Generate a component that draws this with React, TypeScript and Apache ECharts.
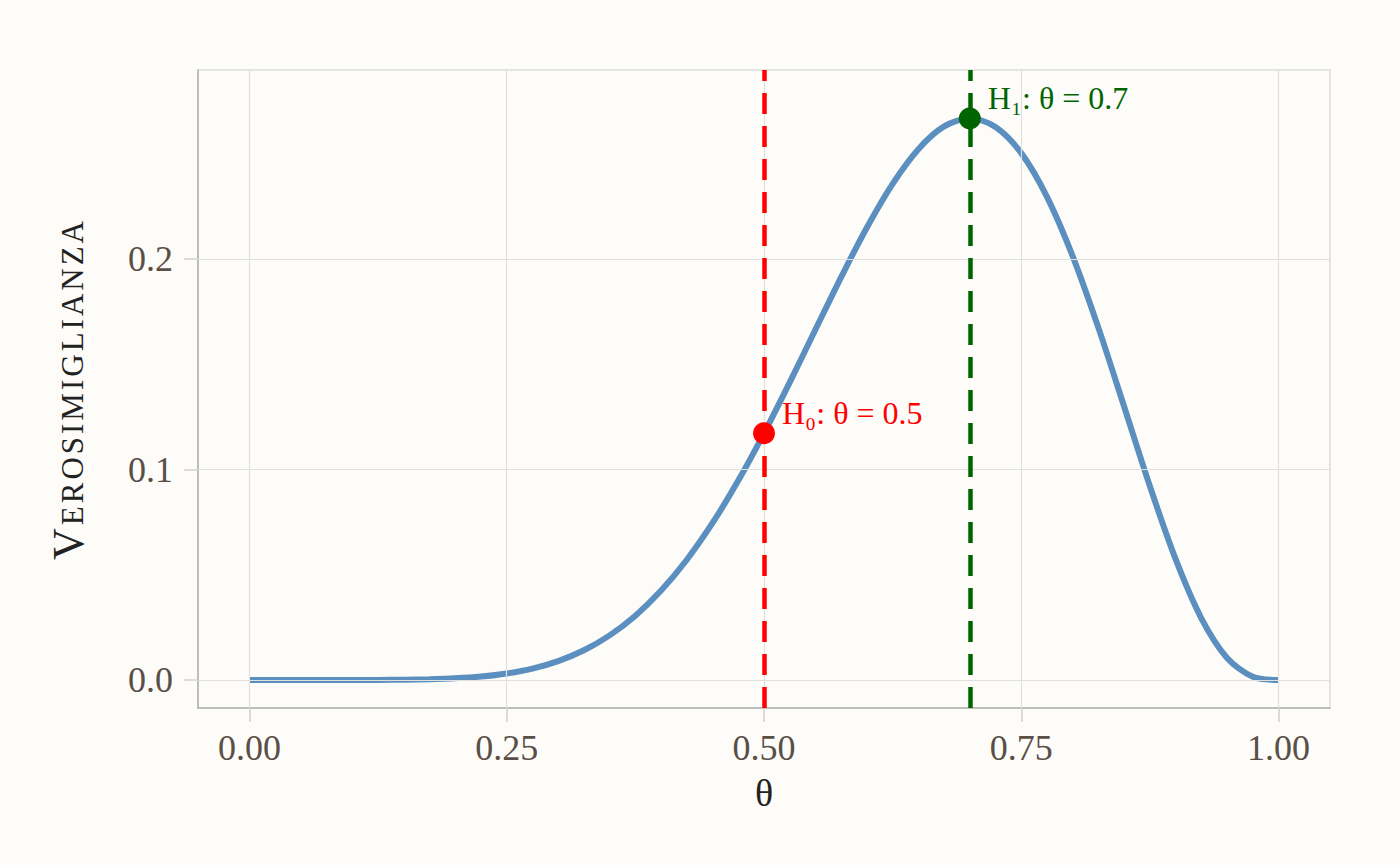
import React, { useEffect, useRef } from 'react';
import * as echarts from 'echarts';

// Likelihood curve
const thetaValues = [
  0, 0.025, 0.05, 0.075, 0.1, 0.125, 0.15, 0.175, 0.2, 0.225, 0.25, 0.275, 0.3, 0.325, 0.35, 0.375, 0.4, 0.425, 0.45, 0.475,
  0.5, 0.525, 0.55, 0.575, 0.6, 0.625, 0.65, 0.675, 0.7, 0.725, 0.75, 0.775, 0.8, 0.825, 0.85, 0.875, 0.9, 0.925, 0.95, 0.975, 1,
];
const likelihood = [
  0, 0, 0, 0, 0.00001, 0.00004, 0.00013, 0.00034, 0.00079, 0.00163, 0.0031, 0.00544, 0.009, 0.01413, 0.0212, 0.03055, 0.0425, 0.05714, 0.0746, 0.09474,
  0.1172, 0.14138, 0.1665, 0.19143, 0.215, 0.23574, 0.2522, 0.263, 0.2668, 0.26275, 0.2503, 0.22954, 0.2013, 0.16728, 0.1298, 0.09204, 0.0574, 0.02933, 0.0105, 0.00157, 0,
];

const xTicks = [0, 0.25, 0.5, 0.75, 1];
const xTickLabels = ['0.00', '0.25', '0.50', '0.75', '1.00'];
const yTicks = [0, 0.1, 0.2];
const yTickLabels = ['0.0', '0.1', '0.2'];

const hypTheta = [0.5, 0.7];
const hypLik = [0.1172, 0.2668];
const hypLabels = ['H₀: θ = 0.5', 'H₁: θ = 0.7'];
const hypColors = ['#FF0000', '#006400'];

const yTitle = 'Verosimiglianza';
const xTitle = 'θ';

const FONT = '"Liberation Serif", "DejaVu Serif", serif';

export default function App() {
  const ref = useRef<HTMLDivElement>(null);
  useEffect(() => {
    document.body.style.margin = '0';
    document.body.style.background = '#FDFCF9';
    const chart = echarts.init(ref.current!, null, { renderer: 'svg' });
    const option: any = {
      animation: false,
      backgroundColor: '#FDFCF9',
      grid: {
        left: 198, right: 70, top: 70, bottom: 157,
        show: true, borderColor: '#dcdcdc', borderWidth: 1.5, backgroundColor: 'transparent',
      },
      xAxis: {
        type: 'value', min: -0.05, max: 1.05,
        name: xTitle, nameLocation: 'middle', nameGap: 66,
        nameTextStyle: { fontFamily: FONT, fontSize: 38, color: '#222222' },
        axisLine: { show: true, onZero: false, lineStyle: { color: '#b0b0b0', width: 1.5 } },
        axisTick: { show: true, customValues: xTicks, length: 14, lineStyle: { color: '#d0d0d0', width: 1.5 } },
        axisLabel: {
          customValues: xTicks, margin: 22, fontFamily: FONT, fontSize: 36, color: '#594f47',
          formatter: (v: number) => xTickLabels[xTicks.findIndex(t => Math.abs(t - v) < 1e-9)] ?? '',
        },
        splitLine: { show: false },
      },
      yAxis: {
        type: 'value', min: -0.0133, max: 0.2898,
        name: yTitle, nameLocation: 'middle', nameGap: 108,
        nameTextStyle: { fontFamily: FONT, fontSize: 44, color: '#222222' },
        axisLine: { show: true, onZero: false, lineStyle: { color: '#b0b0b0', width: 1.5 } },
        axisTick: { show: true, customValues: yTicks, length: 14, lineStyle: { color: '#d0d0d0', width: 1.5 } },
        axisLabel: {
          customValues: yTicks, margin: 25, fontFamily: FONT, fontSize: 36, color: '#594f47',
          formatter: (v: number) => yTickLabels[yTicks.findIndex(t => Math.abs(t - v) < 1e-9)] ?? '',
        },
        splitLine: { show: false },
      },
      series: [
        {
          name: 'grid', type: 'line', data: [], z: 1, silent: true,
          markLine: {
            silent: true, symbol: 'none', label: { show: false },
            lineStyle: { color: '#e0e0e0', width: 1.2, type: 'solid' },
            data: [...xTicks.map(v => ({ xAxis: v })), ...yTicks.map(v => ({ yAxis: v }))],
          },
        },
        {
          name: 'likelihood', type: 'line', z: 3,
          data: thetaValues.map((t, i) => [t, likelihood[i]]),
          smooth: 0.3, showSymbol: false,
          lineStyle: { color: '#5A8FBF', width: 6 },
        },
        {
          name: 'hyp-lines', type: 'line', data: [], z: 4, silent: true,
          markLine: {
            silent: true, symbol: 'none', label: { show: false },
            data: hypTheta.map((t, i) => ({
              xAxis: t,
              lineStyle: { color: hypColors[i], width: 4.5, type: [21, 12] },
            })),
          },
        },
        {
          name: 'hyp-points', type: 'scatter', z: 5, symbolSize: 22,
          data: hypTheta.map((t, i) => ({
            value: [t, hypLik[i]],
            itemStyle: { color: hypColors[i], opacity: 1 },
            label: {
              show: true, position: 'right', distance: 7, offset: [0, -20],
              formatter: hypLabels[i], color: hypColors[i],
              fontFamily: FONT, fontSize: 32,
            },
          })),
        },
      ],
    };
    chart.setOption(option);
    const applySmallCaps = () => {
      ref.current?.querySelectorAll('text').forEach((t) => {
        if (t.textContent === yTitle) {
          const s = (t as SVGTextElement).style;
          s.fontVariant = 'small-caps';
          s.letterSpacing = '3px';
        }
      });
    };
    applySmallCaps();
    chart.on('finished', applySmallCaps);
    const timer = setTimeout(applySmallCaps, 50);
    return () => { clearTimeout(timer); chart.dispose(); };
  }, []);
  return <div ref={ref} style={{ position: 'absolute', left: 0, top: 0, width: 1400, height: 865 }} />;
}
